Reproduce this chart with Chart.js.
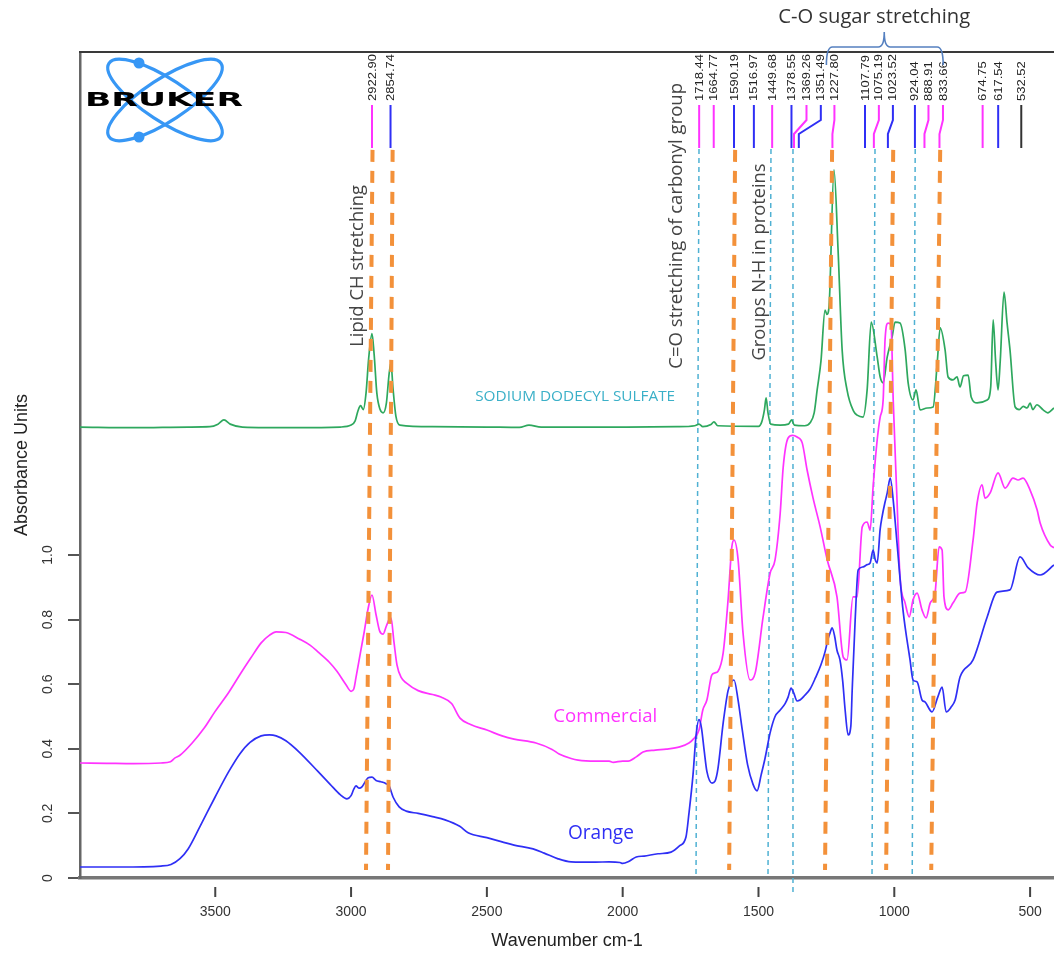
<!DOCTYPE html>
<html><head><meta charset="utf-8">
<script src="https://cdn.jsdelivr.net/npm/chart.js@4.4.1/dist/chart.umd.min.js"></script>
<style>html,body{margin:0;padding:0;background:#fff}#wrap{width:1054px;height:953px;position:relative}</style>
</head><body><div id="wrap"><canvas id="c"></canvas></div>
<script>
// ---------------- DATA ----------------
const xTickValues = [3500, 3000, 2500, 2000, 1500, 1000, 500];
const yTickValues = [0, 0.2, 0.4, 0.6, 0.8, 1.0];

const commercialWn = [3998,3900,3800,3700,3665,3648,3630,3585,3540,3501,
3450,3409,3370,3331,3300,3276,3240,3191,3150,3122,
3080,3052,3020,3000,2990,2982,2965,2952,2937,2923,
2908,2895,2882,2870,2860,2853,2842,2831,2815,2797,
2753,2700,2669,2630,2599,2560,2500,2444,2400,2319,
2260,2234,2190,2164,2100,2050,2035,2000,1980,1950,
1925,1880,1840,1790,1756,1740,1719,1705,1690,1672,
1660,1649,1630,1612,1598,1590,1575,1557,1531,1512,
1483,1457,1439,1420,1409,1391,1375,1358,1339,1321,
1299,1273,1247,1211,1188,1174,1152,1137,1118,1100,
1089,1078,1063,1052,1041,1034,1023,1012,1004,990,
979,960,945,931,916,898,883,868,850,835,
824,817,802,784,758,739,710,695,677,666,
647,618,592,563,544,526,500,474,463,426,
412];
const commercialAbs = [0.356,0.355,0.354,0.356,0.360,0.372,0.380,0.418,0.465,0.515,
0.575,0.630,0.680,0.728,0.752,0.762,0.760,0.740,0.720,0.700,
0.668,0.640,0.600,0.578,0.585,0.620,0.700,0.760,0.835,0.876,
0.815,0.765,0.755,0.780,0.800,0.805,0.730,0.660,0.620,0.604,
0.580,0.568,0.560,0.540,0.495,0.475,0.458,0.440,0.430,0.418,
0.398,0.384,0.370,0.365,0.362,0.362,0.358,0.362,0.362,0.375,
0.390,0.396,0.399,0.406,0.418,0.430,0.458,0.520,0.551,0.628,
0.635,0.640,0.697,0.861,1.026,1.046,0.985,0.759,0.613,0.635,
0.808,0.944,0.985,1.130,1.272,1.362,1.370,1.365,1.347,1.263,
1.176,1.087,0.985,0.870,0.684,0.675,0.870,0.870,1.087,1.102,
1.077,1.211,1.356,1.427,1.480,1.666,1.718,1.712,1.480,1.170,
0.932,0.851,0.808,0.861,0.882,0.830,0.805,0.851,0.882,1.025,
1.015,0.870,0.830,0.851,0.882,0.885,1.046,1.161,1.217,1.176,
1.192,1.254,1.207,1.238,1.232,1.238,1.201,1.139,1.099,1.031,
1.022];

const orangeWn = [3998,3850,3700,3663,3630,3600,3556,3501,3450,3409,
3372,3331,3300,3276,3240,3191,3122,3077,3040,3015,
3000,2990,2982,2970,2960,2950,2937,2923,2908,2890,
2871,2860,2845,2823,2797,2753,2700,2654,2600,2569,
2500,2444,2400,2330,2289,2240,2190,2100,2050,2010,
2000,1980,1950,1921,1870,1822,1790,1767,1756,1741,
1730,1719,1710,1700,1690,1671,1660,1649,1630,1612,
1597,1590,1575,1560,1540,1520,1505,1490,1476,1457,
1439,1420,1402,1391,1380,1370,1358,1347,1330,1310,
1290,1270,1255,1244,1236,1229,1220,1211,1200,1190,
1181,1170,1160,1155,1144,1133,1115,1100,1089,1078,
1070,1063,1052,1045,1035,1026,1015,1004,990,968,
942,931,916,898,887,861,840,824,809,790,
776,758,710,658,622,574,537,507,463,412];
const orangeAbs = [0.034,0.034,0.037,0.042,0.060,0.090,0.160,0.250,0.330,0.385,
0.420,0.440,0.443,0.440,0.425,0.390,0.330,0.290,0.258,0.245,
0.255,0.275,0.285,0.278,0.282,0.295,0.310,0.312,0.302,0.298,
0.292,0.285,0.250,0.220,0.207,0.200,0.190,0.180,0.160,0.140,
0.125,0.112,0.102,0.090,0.077,0.060,0.050,0.049,0.050,0.048,
0.045,0.050,0.065,0.068,0.075,0.080,0.100,0.127,0.200,0.320,
0.440,0.490,0.465,0.395,0.330,0.294,0.300,0.340,0.480,0.580,
0.610,0.613,0.550,0.460,0.350,0.290,0.270,0.320,0.370,0.450,
0.500,0.520,0.540,0.560,0.588,0.572,0.548,0.551,0.565,0.585,
0.620,0.660,0.700,0.740,0.760,0.774,0.750,0.705,0.675,0.610,
0.520,0.443,0.470,0.582,0.800,0.954,0.963,0.970,0.975,1.015,
0.985,0.975,1.080,1.118,1.160,1.192,1.238,1.170,1.037,0.830,
0.675,0.613,0.607,0.551,0.545,0.514,0.560,0.591,0.514,0.530,
0.551,0.622,0.675,0.808,0.885,0.892,0.994,0.960,0.938,0.969];

const sdsWn = [3998,3800,3600,3520,3490,3468,3445,3400,3200,3040,
3000,2985,2975,2965,2955,2945,2935,2923,2915,2905,
2893,2882,2870,2860,2853,2846,2835,2820,2700,2500,
2380,2345,2300,2000,1800,1735,1719,1705,1675,1664,
1650,1500,1488,1478,1472,1465,1455,1420,1390,1378,
1368,1330,1310,1295,1284,1270,1255,1248,1240,1222,
1207,1192,1174,1150,1137,1115,1100,1085,1063,1052,
1041,1026,1008,997,979,960,949,931,920,905,
879,857,842,831,813,802,784,769,758,745,
728,717,695,658,645,636,627,618,610,596,
585,574,555,540,525,511,500,490,475,452,
435,412];
const sdsAbs = [1.396,1.394,1.396,1.397,1.405,1.418,1.405,1.396,1.394,1.396,
1.402,1.415,1.445,1.462,1.450,1.500,1.610,1.685,1.620,1.500,
1.450,1.440,1.470,1.560,1.595,1.520,1.430,1.402,1.397,1.396,
1.395,1.402,1.396,1.396,1.397,1.400,1.405,1.397,1.404,1.412,
1.400,1.398,1.412,1.450,1.486,1.440,1.405,1.402,1.405,1.418,
1.402,1.400,1.409,1.440,1.511,1.600,1.758,1.745,1.772,2.192,
1.944,1.635,1.511,1.445,1.433,1.427,1.511,1.721,1.613,1.551,
1.533,1.613,1.675,1.721,1.718,1.635,1.533,1.480,1.511,1.449,
1.455,1.458,1.594,1.703,1.635,1.551,1.542,1.551,1.520,1.555,
1.557,1.489,1.471,1.480,1.520,1.728,1.600,1.511,1.600,1.814,
1.720,1.635,1.458,1.450,1.460,1.455,1.470,1.450,1.465,1.449,
1.440,1.455];

const peakLabels = ['2922.90','2854.74','1718.44','1664.77','1590.19','1516.97','1449.68','1378.55','1369.26','1351.49',
'1227.80','1107.79','1075.19','1023.52','924.04','888.91','833.66','674.75','617.54','532.52'];
const peakSample = ['Commercial','Orange','Commercial','Commercial','Orange','Orange','Commercial','Orange','Commercial','Orange',
'Commercial','Orange','Commercial','Orange','Orange','Commercial','Commercial','Commercial','Orange','Reference'];

const orangeGuideTopWn = [2921, 2847, 1586, 1229, 1004, 831];
const orangeGuideBottomWn = [2945, 2864, 1608, 1255, 1030, 864];
const cyanGuideTopWn = [1719, 1454, 1373, 1071, 923];
const cyanGuideBottomWn = [1730, 1465, 1373, 1082, 934];

// ---------------- LAYOUT / STYLE ----------------
const X_MIN = 412, X_MAX = 3998, Y_MAX = 2.557;
const COLORS = {Commercial:'#ff33ff', Orange:'#2f2ff5', SDS:'#2ea85e', Reference:'#333333'};
const labelShiftPx = {'1369.26':12.5,'1351.49':22,'1227.80':2,'1075.19':5,'1023.52':5,'888.91':4,'833.66':3.5};
const SANS = '"Open Sans", sans-serif';

function pts(wn, ab){ return wn.map((w,i)=>({x:w, y:ab[i]})); }
function fitSize(ctx, text, target, family, weight){
  ctx.font = (weight||'') + ' 20px ' + family;
  return 20 * target / ctx.measureText(text).width;
}
function rotText(ctx, text, cx, cy, size, family, color, weight){
  ctx.save(); ctx.translate(cx, cy); ctx.rotate(-Math.PI/2);
  ctx.font = (weight||'') + ' ' + size + 'px ' + family; ctx.fillStyle = color;
  ctx.textAlign = 'center'; ctx.textBaseline = 'middle'; ctx.fillText(text, 0, 0); ctx.restore();
}

const annot = {
  id: 'annot',
  beforeDatasetsDraw(chart){
    const {ctx, scales:{x, y}} = chart;
    ctx.save();
    ctx.strokeStyle = '#4fb1d3'; ctx.lineWidth = 1.5; ctx.setLineDash([5,4]);
    cyanGuideTopWn.forEach((w,i)=>{
      ctx.beginPath();
      ctx.moveTo(x.getPixelForValue(w), y.getPixelForValue(2.257));
      ctx.lineTo(x.getPixelForValue(cyanGuideBottomWn[i]), y.getPixelForValue(i===2 ? -0.045 : 0));
      ctx.stroke();
    });
    ctx.restore();
  },
  afterDatasetsDraw(chart){
    const {ctx, scales:{x, y}} = chart;
    ctx.save();
    ctx.strokeStyle = '#f3913a'; ctx.lineWidth = 4; ctx.setLineDash([12,9]); ctx.lineCap = 'butt';
    orangeGuideTopWn.forEach((w,i)=>{
      ctx.beginPath();
      ctx.moveTo(x.getPixelForValue(w), y.getPixelForValue(2.254));
      ctx.lineTo(x.getPixelForValue(orangeGuideBottomWn[i]), y.getPixelForValue(0.025));
      ctx.stroke();
    });
    ctx.restore();
  },
  afterDraw(chart){
    const {ctx, chartArea:a, scales:{x, y}} = chart;
    const X = v => x.getPixelForValue(v), Y = v => y.getPixelForValue(v);
    ctx.save();
    // top frame line
    ctx.strokeStyle = '#3a3a3a'; ctx.lineWidth = 2;
    ctx.beginPath(); ctx.moveTo(a.left - 1, a.top); ctx.lineTo(a.right, a.top); ctx.stroke();
    // x tick marks (detached from axis)
    ctx.strokeStyle = '#444'; ctx.lineWidth = 2;
    xTickValues.forEach(v=>{ ctx.beginPath(); ctx.moveTo(X(v), a.bottom + 9); ctx.lineTo(X(v), a.bottom + 19); ctx.stroke(); });

    // peak markers + labels
    const yTop = a.top + 53, yB1 = a.top + 68, yB2 = a.top + 82, yBot = a.top + 96;
    ctx.lineWidth = 2;
    peakLabels.forEach((lab,i)=>{
      const wn = parseFloat(lab);
      const px = X(wn);
      const lx = px + (labelShiftPx[lab] || 0);
      ctx.strokeStyle = COLORS[peakSample[i]];
      ctx.beginPath();
      ctx.moveTo(lx, yTop);
      if (labelShiftPx[lab]) { ctx.lineTo(lx, yB1); ctx.lineTo(px, yB2); }
      ctx.lineTo(px, yBot); ctx.stroke();
      ctx.save(); ctx.translate(lx, a.top + 49); ctx.rotate(-Math.PI/2); ctx.scale(1.18, 1);
      ctx.font = '11px "Liberation Sans", Arial, sans-serif'; ctx.fillStyle = '#222';
      ctx.textAlign = 'left'; ctx.textBaseline = 'middle'; ctx.fillText(lab, 0, 0.5); ctx.restore();
    });

    // rotated annotations
    const ann = [
      ['Lipid CH stretching', 2974, 1.895, 162],
      ['C=O stretching of carbonyl group', 1800, 2.019, 286],
      ['Groups N-H in proteins', 1494, 1.907, 197]
    ];
    ann.forEach(([t, w, v, len])=>{
      const s = fitSize(ctx, t, len, SANS);
      rotText(ctx, t, X(w), Y(v), s, SANS, '#444');
    });

    // C-O sugar stretching + brace
    const L = X(1250), R = X(820), M = X(1037);
    ctx.strokeStyle = '#5580c0'; ctx.lineWidth = 1.6;
    const yh = a.top - 5, yt = a.top - 20, ye = a.top + 13;
    ctx.beginPath();
    ctx.moveTo(L, ye); ctx.quadraticCurveTo(L, yh, L + 6, yh);
    ctx.lineTo(M - 6, yh); ctx.quadraticCurveTo(M, yh, M, yt);
    ctx.quadraticCurveTo(M, yh, M + 6, yh); ctx.lineTo(R - 6, yh);
    ctx.quadraticCurveTo(R, yh, R, ye); ctx.stroke();
    const sz = fitSize(ctx, 'C-O sugar stretching', 192, SANS);
    ctx.font = sz + 'px ' + SANS; ctx.fillStyle = '#333'; ctx.textAlign = 'center'; ctx.textBaseline = 'middle';
    ctx.fillText('C-O sugar stretching', X(1074), 17);

    // series labels
    const sl = [
      ['Commercial', 2064, 0.498, 104, COLORS.Commercial],
      ['Orange', 2080, 0.139, 66, COLORS.Orange],
      ['SODIUM DODECYL SULFATE', 2175, 1.489, 200, '#3bb0c8']
    ];
    sl.forEach(([t, w, v, len, col])=>{
      const s = fitSize(ctx, t, len, SANS);
      ctx.font = s + 'px ' + SANS; ctx.fillStyle = col; ctx.textAlign = 'center'; ctx.textBaseline = 'middle';
      ctx.fillText(t, X(w), Y(v));
    });

    // BRUKER logo
    const cx = a.left + 85, cy = a.top + 48;
    ctx.strokeStyle = '#3797f5'; ctx.lineWidth = 3.2;
    [0.58, -0.58].forEach(th=>{ ctx.beginPath(); ctx.ellipse(cx, cy, 67, 21, th, 0, Math.PI*2); ctx.stroke(); });
    ctx.fillStyle = '#3797f5';
    [[-26,-37],[-26,37]].forEach(([dx,dy])=>{ ctx.beginPath(); ctx.arc(cx+dx, cy+dy, 5.5, 0, Math.PI*2); ctx.fill(); });
    ctx.font = 'bold 19px "DejaVu Sans", sans-serif';
    const bw = ctx.measureText('BRUKER').width;
    ctx.save(); ctx.translate(cx - 1, cy + 1); ctx.scale(158 / bw, 1);
    ctx.fillStyle = '#000'; ctx.textAlign = 'center'; ctx.textBaseline = 'middle';
    ctx.fillText('BRUKER', 0, 0); ctx.restore();
    ctx.restore();
  }
};

Chart.defaults.font.family = '"Liberation Sans", Arial, sans-serif';
new Chart(document.getElementById('c'), {
  type: 'line',
  data: {
    datasets: [
      {label:'Orange', data: pts(orangeWn, orangeAbs), borderColor: COLORS.Orange, borderWidth: 1.7, pointRadius: 0, cubicInterpolationMode: 'monotone', order: 0},
      {label:'Commercial', data: pts(commercialWn, commercialAbs), borderColor: COLORS.Commercial, borderWidth: 1.7, pointRadius: 0, cubicInterpolationMode: 'monotone', order: 1},
      {label:'SODIUM DODECYL SULFATE', data: pts(sdsWn, sdsAbs), borderColor: COLORS.SDS, borderWidth: 1.7, pointRadius: 0, cubicInterpolationMode: 'monotone', order: 2}
    ]
  },
  options: {
    responsive: true, maintainAspectRatio: false, animation: false,
    layout: {padding: {top: 52, left: 0, right: 0, bottom: 0}},
    plugins: {legend: {display: false}, tooltip: {enabled: false}},
    scales: {
      x: {
        type: 'linear', reverse: true, min: X_MIN, max: X_MAX,
        afterBuildTicks: s => { s.ticks = xTickValues.map(v => ({value: v})); },
        afterFit: s => { s.height = 75; s.paddingLeft = 0; s.paddingRight = 0; },
        ticks: {callback: v => String(v), padding: 26, minRotation: 0, maxRotation: 0, autoSkip: false,
                font: {size: 14}, color: '#333'},
        grid: {display: false, drawTicks: false},
        border: {display: true, color: '#777', width: 3.5},
        title: {display: true, text: 'Wavenumber cm-1', font: {size: 18}, color: '#222', padding: {top: 0, bottom: 1}}
      },
      y: {
        type: 'linear', min: 0, max: Y_MAX,
        afterBuildTicks: s => { s.ticks = yTickValues.map(v => ({value: v})); },
        afterFit: s => { s.width = 80; s.paddingTop = 0; s.paddingBottom = 0; },
        ticks: {callback: v => v === 0 ? '0' : v.toFixed(1), minRotation: 90, maxRotation: 90, crossAlign: 'center',
                padding: 10, font: {size: 14}, color: '#333'},
        grid: {display: true, drawOnChartArea: false, drawTicks: true, tickLength: 12, color: '#555', lineWidth: 2},
        border: {display: true, color: '#666', width: 2.5},
        title: {display: true, text: 'Absorbance Units', font: {size: 18}, color: '#222', padding: {top: 11, bottom: 0}}
      }
    }
  },
  plugins: [annot]
});
</script>
</body></html>
